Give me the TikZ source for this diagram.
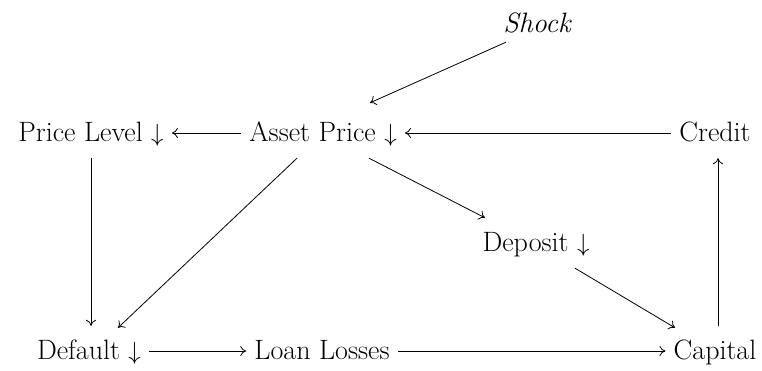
\documentclass[tikz,border=0pt]{standalone}
\usetikzlibrary{arrows.meta}
\begin{document}
\begin{tikzpicture}[x=1pt,y=1pt,
  lbl/.style={anchor=base,inner xsep=8pt,inner ysep=6pt,text height=28pt,text depth=10pt,font=\fontsize{28}{32}\selectfont},
  conn/.style={-{To[length=6pt,width=10pt]},line width=0.8pt}]
\useasboundingbox (0,0) rectangle (762,371);
\node[lbl,font=\fontsize{28}{32}\selectfont\itshape] (shock) at (537,338) {Shock};
\node[lbl] (plevel) at (91,229) {Price Level $\downarrow$};
\node[lbl] (asset) at (323,229) {Asset Price $\downarrow$};
\node[lbl] (credit) at (715,229) {Credit};
\node[lbl] (deposit) at (536,119) {Deposit $\downarrow$};
\node[lbl] (default) at (89,11) {Default $\downarrow$};
\node[lbl] (loan) at (322,11) {Loan Losses};
\node[lbl] (capital) at (715,11) {Capital};
\draw[conn] ([xshift=-31pt,yshift=7pt]shock.south) -- ([xshift=47pt,yshift=5pt]asset.north);
\draw[conn] (asset.west) -- (plevel.east);
\draw[conn] (credit.west) -- (asset.east);
\draw[conn] (plevel.south) -- (plevel.south |- default.north);
\draw[conn] ([xshift=-26pt]asset.south) -- ([xshift=29pt,yshift=-2pt]default.north);
\draw[conn] ([xshift=46pt]asset.south) -- ([xshift=-51pt]deposit.north);
\draw[conn] ([xshift=39pt]deposit.south) -- ([xshift=-40pt,yshift=-2pt]capital.north);
\draw[conn] (default.east) -- (loan.west);
\draw[conn] (loan.east) -- (capital.west);
\draw[conn] ([xshift=3pt]capital.north) -- ([xshift=3pt]capital.north |- credit.south);
\end{tikzpicture}
\end{document}
